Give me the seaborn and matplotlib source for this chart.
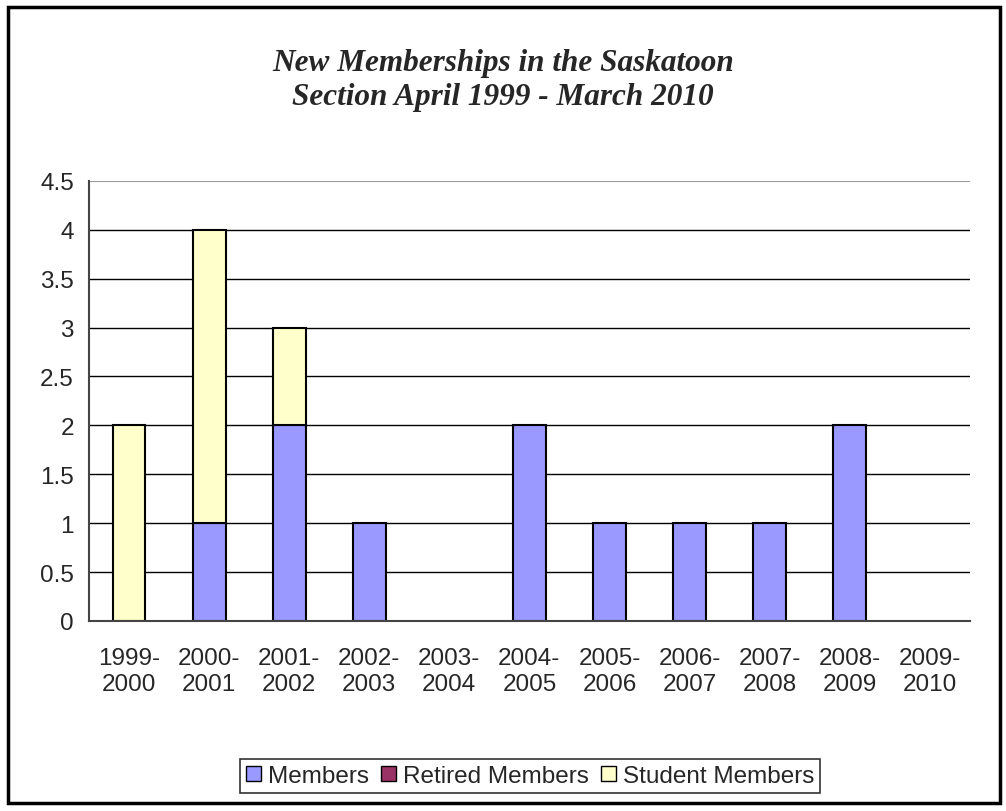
import numpy as np
import pandas as pd
import matplotlib.pyplot as plt
import seaborn as sns
from matplotlib.patches import Rectangle, Patch

periods = ["1999-\n2000", "2000-\n2001", "2001-\n2002", "2002-\n2003", "2003-\n2004",
           "2004-\n2005", "2005-\n2006", "2006-\n2007", "2007-\n2008", "2008-\n2009",
           "2009-\n2010"]
members = [0, 1, 2, 1, 0, 2, 1, 1, 1, 2, 0]
retired = [0, 0, 0, 0, 0, 0, 0, 0, 0, 0, 0]
students = [2, 3, 1, 0, 0, 0, 0, 0, 0, 0, 0]

series_names = ["Members", "Retired Members", "Student Members"]
series_colors = ["#9999FF", "#993366", "#FFFFCC"]

df = pd.DataFrame({"period": periods, "Members": members,
                   "Retired Members": retired, "Student Members": students})

sns.set_style("white")
plt.rcParams["font.family"] = ["Liberation Sans", "DejaVu Sans"]

fig = plt.figure(figsize=(10.06, 8.12), dpi=100)
ax = fig.add_axes([0.0885, 0.234, 0.8755, 0.542])

# stacked bars: members at the bottom, students on top
bottom = np.zeros(len(periods))
for name, color in zip(series_names, series_colors):
    sns.barplot(data=df, x="period", y=name, color=color, bottom=bottom,
                width=0.41, edgecolor="black", linewidth=1.5, ax=ax,
                saturation=1)
    bottom = bottom + df[name].values

for p in ax.patches:
    if p.get_height() == 0:
        p.set_linewidth(0)

ax.set_xlim(-0.5, len(periods) - 0.5)
ax.set_ylim(0, 4.5)
ax.set_yticks(np.arange(0, 4.51, 0.5))
ax.set_yticklabels(["0", "0.5", "1", "1.5", "2", "2.5", "3", "3.5", "4", "4.5"])
for y in np.arange(0.5, 4.01, 0.5):
    ax.axhline(y, color="black", linewidth=1, zorder=0)
ax.axhline(4.5, color="#999999", linewidth=1.5, zorder=0)

ax.set_xticks(np.arange(len(periods)))
ax.set_xticklabels(periods, fontsize=17.5, linespacing=1.2)
ax.set_xticks(np.arange(-0.5, len(periods)), minor=True)
ax.tick_params(axis="x", which="major", length=0, pad=19)
ax.tick_params(axis="x", which="minor", length=7, width=1.2, color="#444444", direction="out")
ax.tick_params(axis="y", length=7, width=1.2, color="#444444", direction="out",
               labelsize=17.5, pad=4)
ax.set_xlabel("")
ax.set_ylabel("")

for side in ["top", "right"]:
    ax.spines[side].set_visible(False)
for side in ["left", "bottom"]:
    ax.spines[side].set_color("#444444")
    ax.spines[side].set_linewidth(1.5)

fig.text(0.5, 0.901, "New Memberships in the Saskatoon\nSection April 1999 - March 2010",
         ha="center", va="center", fontsize=22.5, fontweight="bold", style="italic",
         family=["Liberation Serif", "DejaVu Serif"], linespacing=1.22)

handles = [Patch(facecolor=c, edgecolor="black", linewidth=1) for c in series_colors]
leg = fig.legend(handles, series_names, loc="center", bbox_to_anchor=(0.527, 0.043),
                 ncol=3, fontsize=17.5, frameon=True, fancybox=False,
                 handlelength=0.6, handleheight=0.6, handletextpad=0.3,
                 columnspacing=0.5, borderpad=0.25)
leg.get_frame().set_edgecolor("black")
leg.get_frame().set_linewidth(1.2)

fig.patches.append(Rectangle((0.008, 0.01), 0.986, 0.98, transform=fig.transFigure,
                             fill=False, edgecolor="black", linewidth=2.5))

fig.savefig("out.png", dpi=100)
